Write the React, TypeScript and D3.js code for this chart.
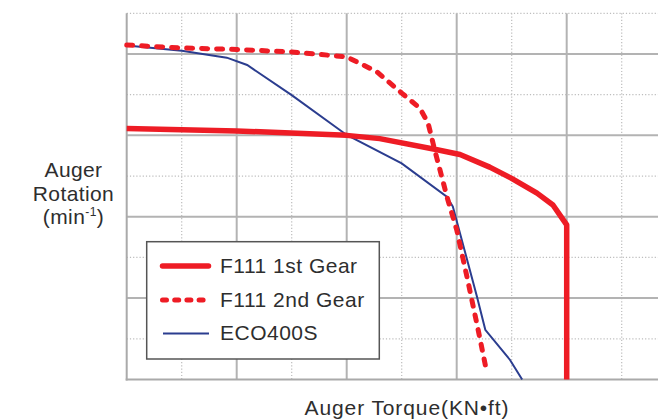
import * as React from "react"
import * as d3 from "d3"

// values in grid units (one unit = one dotted grid step)
const gear1Torque = [0, 2, 4, 4.6, 5.6, 6.06, 6.6, 6.99, 7.46, 7.75, 8.0, 8.0]
const gear1Rotation = [6.17, 6.11, 6.0, 5.92, 5.66, 5.53, 5.22, 4.95, 4.58, 4.29, 3.8, 0]

const gear2Torque = [0, 0.97, 2, 3, 4, 4.55, 5.0, 5.33, 5.48, 5.6, 5.84, 6.0, 6.2, 6.39, 6.55]
const gear2Rotation = [8.22, 8.15, 8.11, 8.05, 7.93, 7.56, 7.04, 6.67, 6.3, 5.64, 4.41, 3.68, 2.44, 1.22, 0.16]

const ecoTorque = [0, 1, 1.82, 2.19, 3, 4, 5, 5.82, 5.93, 6.37, 6.52, 6.97, 7.19]
const ecoRotation = [8.21, 8.08, 7.91, 7.73, 6.99, 6.01, 5.31, 4.49, 4.25, 2.03, 1.22, 0.48, 0]

const seriesNames = ["F111 1st Gear", "F111 2nd Gear", "ECO400S"]
const xTicks = d3.range(0, 10)
const yTicks = d3.range(0, 10)

const RED = "#ee1c25"
const BLUE = "#2b3d8f"
const FONT = "'Liberation Sans', Arial, sans-serif"

function render(svgRef: React.RefObject<SVGSVGElement>) {
  const width = 658
  const height = 419

  const svg = d3.select(svgRef.current).attr("width", width).attr("height", height)
  svg.selectAll("*").remove()

  const xScale = d3.scaleLinear().domain([0, 10]).range([126.7, 676.7])
  const yScale = d3.scaleLinear().domain([0, 9]).range([379.5, 13.3])

  const grid = svg.append("g")

  // vertical grid
  grid
    .selectAll(".vgrid")
    .data(xTicks.slice(1))
    .join("line")
    .attr("x1", (d) => xScale(d))
    .attr("x2", (d) => xScale(d))
    .attr("y1", yScale(9))
    .attr("y2", yScale(0))
    .attr("stroke", (d) => (d % 2 === 0 ? "#b3b3b3" : "#bdbdbd"))
    .attr("stroke-width", (d) => (d % 2 === 0 ? 2 : 1.2))
    .attr("stroke-dasharray", (d) => (d % 2 === 0 ? null : "1.2,2"))

  // horizontal grid
  grid
    .selectAll(".hgrid")
    .data(yTicks.slice(1))
    .join("line")
    .attr("x1", xScale(0))
    .attr("x2", width)
    .attr("y1", (d) => yScale(d))
    .attr("y2", (d) => yScale(d))
    .attr("stroke", (d) => (d % 2 === 0 ? "#b3b3b3" : "#bdbdbd"))
    .attr("stroke-width", (d) => (d % 2 === 0 ? 2 : 1.2))
    .attr("stroke-dasharray", (d) => (d % 2 === 0 ? null : "1.2,2"))

  // axes
  grid
    .append("line")
    .attr("x1", xScale(0))
    .attr("x2", xScale(0))
    .attr("y1", yScale(9))
    .attr("y2", yScale(0) + 1)
    .attr("stroke", "#aaaaaa")
    .attr("stroke-width", 2)
  grid
    .append("line")
    .attr("x1", xScale(0) - 1)
    .attr("x2", width)
    .attr("y1", yScale(0))
    .attr("y2", yScale(0))
    .attr("stroke", "#aaaaaa")
    .attr("stroke-width", 2)

  const line = d3
    .line<[number, number]>()
    .x((d) => xScale(d[0]))
    .y((d) => yScale(d[1]))

  const eco = d3.zip(ecoTorque, ecoRotation) as [number, number][]
  const gear2 = d3.zip(gear2Torque, gear2Rotation) as [number, number][]
  const gear1 = d3.zip(gear1Torque, gear1Rotation) as [number, number][]

  svg
    .append("path")
    .attr("d", line(eco))
    .attr("fill", "none")
    .attr("stroke", BLUE)
    .attr("stroke-width", 2)

  svg
    .append("path")
    .attr("d", line(gear1))
    .attr("fill", "none")
    .attr("stroke", RED)
    .attr("stroke-width", 5.5)
    .attr("stroke-linejoin", "round")

  svg
    .append("path")
    .attr("d", line(gear2))
    .attr("fill", "none")
    .attr("stroke", RED)
    .attr("stroke-width", 5)
    .attr("stroke-linecap", "round")
    .attr("stroke-dasharray", "6,9")

  // legend
  const legend = svg.append("g")
  legend
    .append("rect")
    .attr("x", 146.7)
    .attr("y", 241.7)
    .attr("width", 232.6)
    .attr("height", 117.3)
    .attr("fill", "white")
    .attr("stroke", "#555555")
    .attr("stroke-width", 1.5)

  const rows = [266, 300, 333.5]
  seriesNames.forEach((name, i) => {
    const l = legend
      .append("line")
      .attr("y1", rows[i])
      .attr("y2", rows[i])
      .attr("fill", "none")
    if (i === 0) {
      l.attr("x1", 162.5).attr("x2", 208.5).attr("stroke", RED).attr("stroke-width", 5.5).attr("stroke-linecap", "round")
    } else if (i === 1) {
      l.attr("x1", 162.5)
        .attr("x2", 209)
        .attr("stroke", RED)
        .attr("stroke-width", 5)
        .attr("stroke-linecap", "round")
        .attr("stroke-dasharray", "4,8.2")
    } else {
      l.attr("x1", 163).attr("x2", 209).attr("stroke", BLUE).attr("stroke-width", 2)
    }
    legend
      .append("text")
      .attr("x", 220)
      .attr("y", rows[i] + 6.5)
      .attr("font-family", FONT)
      .attr("font-size", 21)
      .attr("letter-spacing", 0.5)
      .attr("fill", "#2e2e2e")
      .text(name)
  })

  // y label
  const yLabel = svg
    .append("text")
    .attr("text-anchor", "middle")
    .attr("font-family", FONT)
    .attr("font-size", 21)
    .attr("letter-spacing", 0.4)
    .attr("fill", "#2e2e2e")
  yLabel.append("tspan").attr("x", 73.5).attr("y", 177).text("Auger")
  yLabel.append("tspan").attr("x", 73.5).attr("y", 201).text("Rotation")
  const third = yLabel.append("tspan").attr("x", 73.5).attr("y", 224)
  third.append("tspan").text("(min")
  third.append("tspan").attr("font-size", 12).attr("dy", -8).text("-1")
  third.append("tspan").attr("dy", 8).text(")")

  // x label
  svg
    .append("text")
    .attr("x", 407)
    .attr("y", 415)
    .attr("text-anchor", "middle")
    .attr("font-family", FONT)
    .attr("font-size", 21)
    .attr("letter-spacing", 0.9)
    .attr("fill", "#2e2e2e")
    .text("Auger Torque(KN•ft)")
}

export default function App(): React.JSX.Element {
  const svg = React.useRef<SVGSVGElement>(null)

  React.useEffect(() => {
    document.body.style.margin = "0"
    render(svg)
  }, [])

  return (
    <div style={{ position: "absolute", left: 0, top: 0, width: 658, height: 419, background: "white" }}>
      <svg ref={svg} style={{ display: "block" }}></svg>
    </div>
  )
}
